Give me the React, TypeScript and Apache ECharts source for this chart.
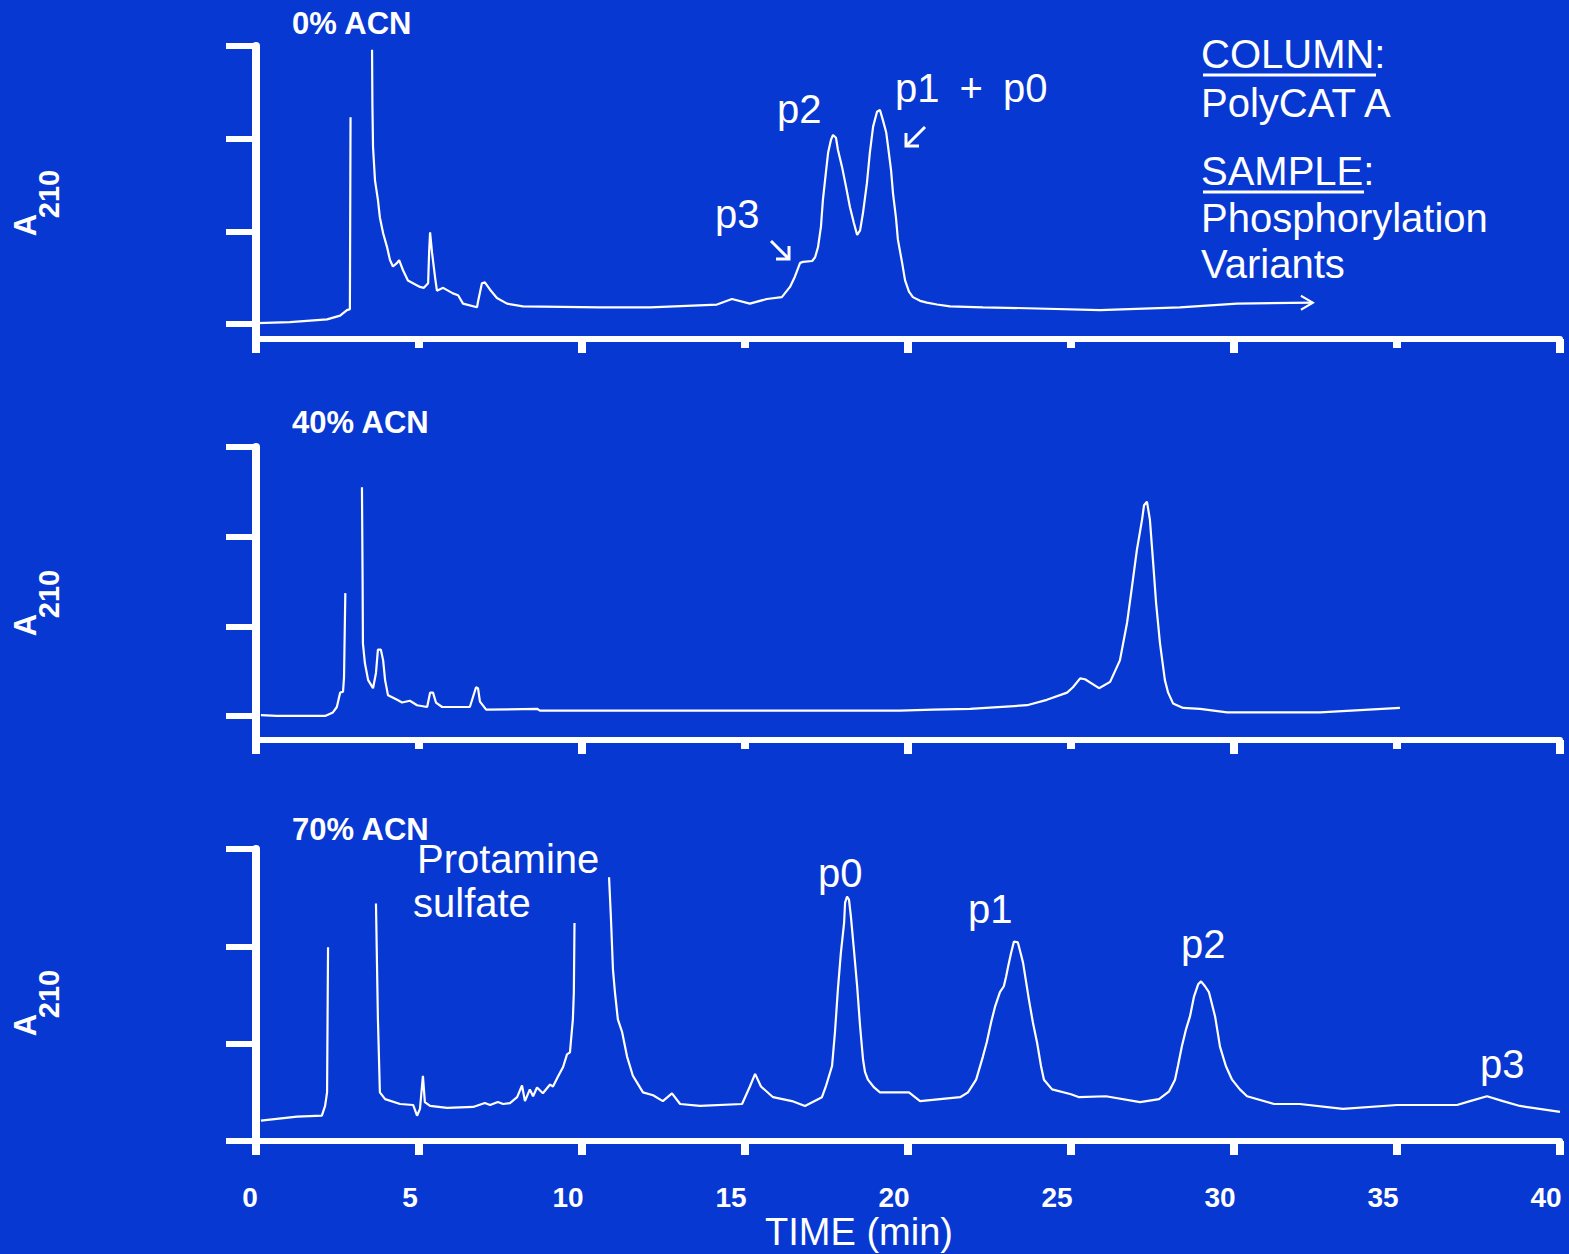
import React, { useEffect, useRef } from 'react';
import * as echarts from 'echarts';

// ---------- data ----------
const panelTitles = ['0% ACN', '40% ACN', '70% ACN'];
const xTickValues = [0, 5, 10, 15, 20, 25, 30, 35, 40];
const yTickValues = [0, 1, 2, 3];

// [time (min), A210 (arbitrary tick units)]; null = off-scale gap
const trace0ACN: [number, number | null][] = [
  [0.03, 0.01], [1.04, 0.02], [2.18, 0.05], [2.58, 0.09], [2.79, 0.15], [2.88, 0.16], [2.9, 2.23],
  [3.2, null],
  [3.56, 2.96], [3.57, 2.38], [3.59, 1.91], [3.65, 1.55], [3.74, 1.34], [3.8, 1.15], [3.9, 0.98],
  [4.02, 0.83], [4.11, 0.69], [4.2, 0.62], [4.33, 0.66], [4.39, 0.69], [4.51, 0.58], [4.66, 0.47],
  [5.03, 0.4], [5.15, 0.39], [5.28, 0.44], [5.31, 0.77], [5.34, 0.99], [5.4, 0.77], [5.49, 0.51],
  [5.55, 0.36], [5.74, 0.39], [6.04, 0.33], [6.2, 0.31], [6.35, 0.22], [6.78, 0.18], [6.81, 0.24],
  [6.93, 0.44], [7.02, 0.45], [7.18, 0.37], [7.39, 0.28], [7.7, 0.22], [8.19, 0.19], [10.55, 0.18],
  [12.09, 0.18], [14.14, 0.21], [14.6, 0.27], [15.15, 0.22], [15.67, 0.27], [16.13, 0.29],
  [16.38, 0.4], [16.53, 0.51], [16.69, 0.66], [16.78, 0.67], [17.06, 0.68], [17.15, 0.72],
  [17.24, 0.83], [17.33, 1.05], [17.39, 1.34], [17.48, 1.63], [17.55, 1.85], [17.64, 1.99],
  [17.7, 2.04], [17.79, 2.01], [17.85, 1.88], [17.98, 1.69], [18.1, 1.48], [18.22, 1.26],
  [18.34, 1.09], [18.44, 0.96], [18.53, 1.01], [18.62, 1.2], [18.74, 1.52], [18.83, 1.85],
  [18.93, 2.13], [19.05, 2.29], [19.14, 2.31], [19.23, 2.2], [19.33, 2.07], [19.39, 1.91],
  [19.48, 1.66], [19.54, 1.41], [19.63, 1.15], [19.69, 0.91], [19.82, 0.66], [19.91, 0.47],
  [20.03, 0.35], [20.15, 0.29], [20.37, 0.25], [20.58, 0.23], [20.89, 0.21], [21.29, 0.19],
  [22.3, 0.18], [23.65, 0.17], [25.89, 0.15], [28.34, 0.18], [30.09, 0.22], [32.42, 0.23],
];

const trace40ACN: [number, number | null][] = [
  [0.15, 0.01], [0.64, 0], [2.12, 0], [2.36, 0.04], [2.48, 0.1], [2.58, 0.26], [2.67, 0.27],
  [2.7, 0.43], [2.74, 1.37],
  [3.0, null],
  [3.25, 2.55], [3.27, 1.51], [3.28, 0.81], [3.34, 0.59], [3.44, 0.4], [3.59, 0.31], [3.68, 0.48],
  [3.74, 0.74], [3.83, 0.74], [3.9, 0.62], [3.96, 0.4], [4.05, 0.23], [4.33, 0.18], [4.48, 0.15],
  [4.72, 0.17], [4.94, 0.12], [5.25, 0.1], [5.34, 0.26], [5.43, 0.26], [5.52, 0.15], [5.71, 0.1],
  [6.56, 0.1], [6.75, 0.32], [6.81, 0.31], [6.87, 0.16], [7.06, 0.07], [8.62, 0.08], [8.71, 0.06],
  [10.55, 0.06], [19.75, 0.06], [20.77, 0.07], [21.9, 0.08], [23.65, 0.12], [24.26, 0.18],
  [24.88, 0.26], [25.06, 0.32], [25.28, 0.42], [25.43, 0.41], [25.86, 0.31], [26.2, 0.38],
  [26.5, 0.62], [26.72, 1.04], [26.87, 1.44], [27.02, 1.85], [27.18, 2.19], [27.24, 2.35],
  [27.33, 2.39], [27.42, 2.19], [27.52, 1.71], [27.61, 1.26], [27.73, 0.81], [27.88, 0.4],
  [27.98, 0.26], [28.13, 0.14], [28.44, 0.09], [28.96, 0.08], [29.79, 0.04], [32.64, 0.04],
  [35.09, 0.09],
];

const trace70ACN: [number, number | null][] = [
  [0.15, 0.21], [1.26, 0.25], [2.02, 0.26], [2.12, 0.36], [2.18, 0.5], [2.21, 1.99],
  [3.0, null],
  [3.68, 2.44], [3.74, 1.25], [3.8, 0.5], [3.96, 0.43], [4.42, 0.38], [4.82, 0.37], [4.94, 0.26],
  [5.03, 0.33], [5.12, 0.67], [5.18, 0.4], [5.34, 0.36], [5.86, 0.34], [6.66, 0.35], [7.02, 0.39],
  [7.18, 0.37], [7.42, 0.4], [7.58, 0.38], [7.79, 0.39], [8.01, 0.45], [8.16, 0.57], [8.25, 0.41],
  [8.4, 0.53], [8.5, 0.46], [8.62, 0.55], [8.8, 0.49], [9.02, 0.58], [9.11, 0.56], [9.26, 0.66],
  [9.42, 0.76], [9.54, 0.89], [9.63, 0.91], [9.72, 1.25], [9.75, 1.53], [9.77, 2.24],
  [10.3, null],
  [10.83, 2.71], [10.89, 2.27], [10.95, 1.76], [11.01, 1.53], [11.1, 1.25], [11.23, 1.12],
  [11.32, 0.97], [11.38, 0.87], [11.47, 0.77], [11.56, 0.67], [11.69, 0.6], [11.87, 0.5],
  [12.18, 0.47], [12.48, 0.41], [12.76, 0.49], [13.01, 0.38], [13.62, 0.36],
  [14.91, 0.38], [15.15, 0.56], [15.31, 0.69], [15.49, 0.56], [15.86, 0.45], [16.44, 0.41],
  [16.84, 0.36], [17.36, 0.45], [17.48, 0.56], [17.67, 0.77], [17.76, 1.12], [17.85, 1.56],
  [17.94, 1.93], [18.04, 2.24], [18.07, 2.45], [18.13, 2.51], [18.19, 2.48], [18.25, 2.3],
  [18.34, 1.97], [18.44, 1.59], [18.53, 1.18], [18.62, 0.84], [18.68, 0.71], [18.77, 0.63],
  [18.96, 0.55], [19.14, 0.5], [19.72, 0.5], [20.03, 0.5], [20.37, 0.41], [21.6, 0.45],
  [21.84, 0.5], [22.09, 0.63], [22.3, 0.87], [22.42, 1.02], [22.55, 1.22], [22.67, 1.38],
  [22.82, 1.53], [22.94, 1.59], [23.01, 1.69], [23.07, 1.79], [23.16, 1.93], [23.25, 2.05],
  [23.37, 2.04], [23.47, 1.91], [23.53, 1.83], [23.62, 1.64], [23.71, 1.45], [23.83, 1.22],
  [23.96, 1.01], [24.08, 0.77], [24.17, 0.63], [24.42, 0.53], [25.0, 0.48], [25.25, 0.45],
  [26.07, 0.46], [27.12, 0.4], [27.7, 0.43], [28.01, 0.51], [28.19, 0.63], [28.28, 0.77],
  [28.4, 0.97], [28.53, 1.15], [28.65, 1.28], [28.77, 1.48], [28.9, 1.61], [28.99, 1.64],
  [29.11, 1.59], [29.23, 1.53], [29.42, 1.28], [29.57, 0.97], [29.75, 0.77], [29.94, 0.63],
  [30.18, 0.53], [30.4, 0.46], [31.23, 0.38], [32.02, 0.38], [33.34, 0.33], [35.0, 0.37],
  [36.84, 0.37], [37.24, 0.41], [37.76, 0.46], [38.25, 0.41], [38.77, 0.36], [40.0, 0.3],
];

const traces = [trace0ACN, trace40ACN, trace70ACN];

// ---------- layout ----------
const BG = '#0838D2';
const FONT = '"Liberation Sans", Arial, sans-serif';
const gridTops = [46, 447, 849];
const gridHeights = [293, 293, 292];
const yMins = [-0.162, -0.268, 0];
// how far (px) each tick label sits left of its tick
const labelShiftFor = (v: number) => (v === 0 ? 6 : v === 5 ? 9 : 14);

export default function App() {
  const ref = useRef<HTMLDivElement>(null);

  useEffect(() => {
    document.body.style.margin = '0';
    document.body.style.background = BG;
    if (!ref.current) return;
    const chart = echarts.init(ref.current, undefined, { renderer: 'svg' });

    const rich: any = {};
    xTickValues.forEach((v) => {
      rich['s' + v] = {
        color: '#fff', fontFamily: FONT, fontWeight: 'bold', fontSize: 28, lineHeight: 22,
        padding: [0, labelShiftFor(v) * 2, 0, 0],
      };
    });

    const grids: any[] = [];
    const xAxes: any[] = [];
    const yAxes: any[] = [];
    const series: any[] = [];

    for (let i = 0; i < 3; i++) {
      grids.push({
        left: 256, right: 9, top: gridTops[i], height: gridHeights[i],
        containLabel: false, outerBoundsMode: 'none',
      });
      const isBottom = i === 2;
      const minorIndex = xAxes.length;
      xAxes.push({
        type: 'value', gridIndex: i, position: 'bottom', min: 0, max: 40, interval: 5,
        axisLine: { show: true, onZero: false, lineStyle: { color: '#fff', width: 6 } },
        axisTick: { show: true, length: isBottom ? 14 : 9, lineStyle: { color: '#fff', width: 8 } },
        axisLabel: {
          show: isBottom, color: '#fff', fontFamily: FONT, fontWeight: 'bold', fontSize: 28,
          lineHeight: 22, margin: 45, showMinLabel: true, showMaxLabel: true,
          formatter: (v: number) => `{s${v}|${v}}`,
          rich,
        },
        splitLine: { show: false },
      });
      if (!isBottom) {
        xAxes.push({
          type: 'value', gridIndex: i, position: 'bottom', min: 0, max: 40, interval: 10,
          axisLine: { show: false, onZero: false },
          axisTick: { show: true, length: 14, lineStyle: { color: '#fff', width: 8 } },
          axisLabel: { show: false },
          splitLine: { show: false },
        });
      }
      yAxes.push({
        type: 'value', gridIndex: i, min: yMins[i], max: 3,
        axisLine: { show: true, onZero: false, lineStyle: { color: '#fff', width: 8 } },
        axisTick: { show: true, length: 30, customValues: yTickValues, lineStyle: { color: '#fff', width: 6 } },
        axisLabel: { show: false },
        splitLine: { show: false },
      });

      const raw = traces[i];
      const data: any[] = raw.map((p, k) => {
        if (i === 0 && k === raw.length - 1) {
          return {
            value: p,
            symbol: 'path://M0,0L12,7L0,14',
            symbolSize: [12, 14],
            symbolOffset: [-6, 0],
            itemStyle: { color: 'none', borderColor: '#fff', borderWidth: 2 },
          };
        }
        return p;
      });
      series.push({
        type: 'line', xAxisIndex: minorIndex, yAxisIndex: i, data,
        showSymbol: true, symbol: 'none', connectNulls: false, clip: false,
        lineStyle: { color: '#fff', width: 2.2 },
        silent: true,
      });
    }

    const txt = (text: string, x: number, y: number, size: number, opts: any = {}) => ({
      type: 'text', x, y, silent: true, rotation: opts.rotation || 0,
      style: {
        text, fill: '#fff', font: `${opts.bold ? 'bold ' : ''}${size}px ${FONT}`,
        textAlign: opts.align || 'left', textVerticalAlign: 'middle',
        rich: opts.rich,
      },
    });
    const ln = (x1: number, y1: number, x2: number, y2: number, w = 3) => ({
      type: 'line', silent: true, shape: { x1, y1, x2, y2 },
      style: { stroke: '#fff', lineWidth: w },
    });
    const poly = (points: number[][], w = 3) => ({
      type: 'polyline', silent: true, shape: { points },
      style: { stroke: '#fff', lineWidth: w, fill: null },
    });

    const graphics: any[] = [
      // panel titles
      txt(panelTitles[0], 292, 23, 31, { bold: true }),
      txt(panelTitles[1], 292, 422, 31, { bold: true }),
      txt(panelTitles[2], 292, 829, 31, { bold: true }),
      // y-axis labels A210
      ...[0, 400, 800].flatMap((dy) => [
        txt('A', 25, 225 + dy, 31, { bold: true, align: 'center', rotation: Math.PI / 2 }),
        txt('210', 49, 194 + dy, 29, { bold: true, align: 'center', rotation: Math.PI / 2 }),
      ]),
      // panel 1 annotations
      txt('p2', 777, 109, 40),
      txt('p1 {b|+} p0', 895, 88, 40, {
        rich: { b: { font: `40px ${FONT}`, fill: '#fff', padding: [0, 9, 0, 9] } },
      }),
      txt('p3', 715, 214, 40),
      ln(771, 241, 788, 258), poly([[776, 259], [789, 259], [789, 246]]),
      ln(925, 127, 907, 145), poly([[906, 133], [906, 146], [919, 146]]),
      txt('COLUMN:', 1201, 54, 40),
      ln(1203, 75, 1376, 75, 3),
      txt('PolyCAT A', 1201, 103, 40),
      txt('SAMPLE:', 1201, 171, 40),
      ln(1203, 192, 1364, 192, 3),
      txt('Phosphorylation', 1201, 218, 40),
      txt('Variants', 1201, 264, 40),
      // panel 3 annotations
      txt('Protamine', 417, 859, 40),
      txt('sulfate', 413, 903, 40),
      txt('p0', 818, 873, 40),
      txt('p1', 968, 909, 40),
      txt('p2', 1181, 944, 40),
      txt('p3', 1480, 1064, 40),
      // x title
      txt('TIME (min)', 859, 1232, 38, { align: 'center' }),
    ];

    chart.setOption({
      animation: false,
      backgroundColor: BG,
      grid: grids,
      xAxis: xAxes,
      yAxis: yAxes,
      series,
      graphic: graphics,
    });

    return () => chart.dispose();
  }, []);

  return <div ref={ref} style={{ width: 1569, height: 1254 }} />;
}
